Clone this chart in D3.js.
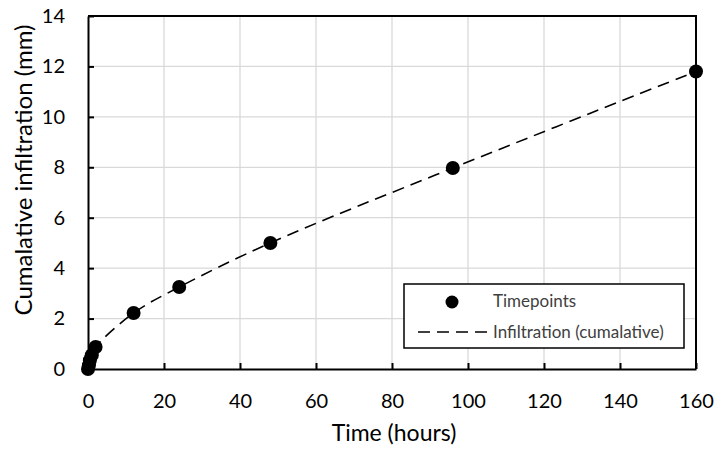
<!DOCTYPE html>
<html>
<head>
	<script src="https://cdn.jsdelivr.net/npm/d3@7"></script>
	<style>
		html, body { margin: 0; padding: 0; background: white; }
		text { font-family: Lato, "Open Sans", sans-serif; fill: #000; }
	</style>
</head>
<body>
	<div id="chart"></div>
	<script>
		// data
		var hours = [0, 0.25, 0.5, 1, 2, 12, 24, 48, 96, 160];
		var infil = [0, 0.15, 0.35, 0.55, 0.87, 2.22, 3.25, 5.0, 7.97, 11.8];
		var xTicks = [0, 20, 40, 60, 80, 100, 120, 140, 160];
		var yTicks = [0, 2, 4, 6, 8, 10, 12, 14];

		var width = 716, height = 449;
		var m = {left: 88, right: 20, top: 16, bottom: 80};

		var svg = d3.select('#chart').append('svg')
			.attr('width', width)
			.attr('height', height);

		var x = d3.scaleLinear().domain([0, 160]).range([m.left, width - m.right]);
		var y = d3.scaleLinear().domain([0, 14]).range([height - m.bottom, m.top]);

		var pts = hours.map(function(h, i) { return {t: h, v: infil[i]}; });

		// grid
		svg.append('g').selectAll('line.gx')
			.data(xTicks.slice(1, -1)).enter().append('line')
			.attr('x1', x).attr('x2', x)
			.attr('y1', y(0)).attr('y2', y(14))
			.attr('stroke', '#d9d9d9').attr('stroke-width', 1.3);
		svg.append('g').selectAll('line.gy')
			.data(yTicks.slice(1, -1)).enter().append('line')
			.attr('y1', y).attr('y2', y)
			.attr('x1', x(0)).attr('x2', x(160))
			.attr('stroke', '#d9d9d9').attr('stroke-width', 1.3);

		// axes, ticks pointing inward
		var xAxis = svg.append('g')
			.attr('transform', 'translate(0,' + y(0) + ')')
			.call(d3.axisBottom(x).tickValues(xTicks).tickSizeInner(-6).tickSizeOuter(0).tickPadding(25));
		var yAxis = svg.append('g')
			.attr('transform', 'translate(' + x(0) + ',0)')
			.call(d3.axisLeft(y).tickValues(yTicks).tickSizeInner(-6).tickSizeOuter(0).tickPadding(23));
		[xAxis, yAxis].forEach(function(a) {
			a.select('.domain').attr('stroke', '#000').attr('stroke-width', 2);
			a.selectAll('.tick line').attr('stroke', '#000').attr('stroke-width', 2);
			a.selectAll('.tick text').style('font-size', '20px').style('font-family', 'Lato, "Open Sans", sans-serif');
		});

		// frame top and right
		svg.append('path')
			.attr('d', 'M' + x(0) + ',' + y(14) + 'H' + x(160) + 'V' + y(0))
			.attr('fill', 'none').attr('stroke', '#000').attr('stroke-width', 2);

		// dashed cumulative line
		var line = d3.line()
			.x(function(d) { return x(d.t); })
			.y(function(d) { return y(d.v); })
			.curve(d3.curveCatmullRom.alpha(0.5));
		svg.append('path')
			.datum(pts)
			.attr('d', line)
			.attr('fill', 'none')
			.attr('stroke', '#000')
			.attr('stroke-width', 1.6)
			.attr('stroke-dasharray', '12,7');

		svg.append('g').selectAll('circle')
			.data(pts).enter().append('circle')
			.attr('cx', function(d) { return x(d.t); })
			.attr('cy', function(d) { return y(d.v); })
			.attr('r', 7)
			.attr('fill', '#000');

		// axis titles
		svg.append('text')
			.attr('x', 394).attr('y', 441)
			.attr('text-anchor', 'middle')
			.style('font-size', '23px')
			.text('Time (hours)');
		svg.append('text')
			.attr('transform', 'translate(32,170) rotate(-90)')
			.attr('text-anchor', 'middle')
			.style('font-size', '24px')
			.text('Cumalative infiltration (mm)');

		// legend
		var lg = svg.append('g').attr('transform', 'translate(404,284)');
		lg.append('rect')
			.attr('width', 280).attr('height', 64)
			.attr('fill', 'white').attr('stroke', '#000').attr('stroke-width', 1.5);
		lg.append('circle').attr('cx', 48).attr('cy', 18).attr('r', 6.5).attr('fill', '#000');
		lg.append('text').attr('x', 89).attr('y', 23).style('font-size', '17px').style('fill', '#404040').text('Timepoints');
		lg.append('line')
			.attr('x1', 14).attr('x2', 84).attr('y1', 48).attr('y2', 48)
			.attr('stroke', '#000').attr('stroke-width', 1.6).attr('stroke-dasharray', '12,7');
		lg.append('text').attr('x', 89).attr('y', 54).style('font-size', '17px').style('fill', '#404040').text('Infiltration (cumalative)');
	</script>
</body>
</html>
